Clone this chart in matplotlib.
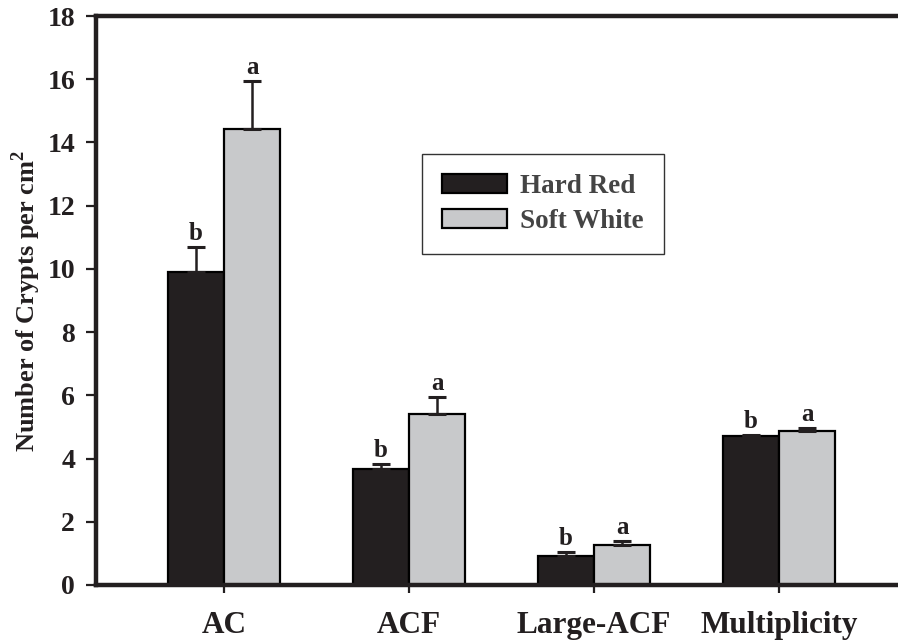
import matplotlib
matplotlib.use("Agg")
import matplotlib.pyplot as plt
import numpy as np

categories = ["AC", "ACF", "Large-ACF", "Multiplicity"]
series_names = ["Hard Red", "Soft White"]
hard_red = [9.9, 3.66, 0.92, 4.70]
hard_red_err = [0.78, 0.17, 0.13, 0.04]
soft_white = [14.44, 5.42, 1.28, 4.88]
soft_white_err = [1.5, 0.53, 0.12, 0.10]
hard_red_letters = ["b", "b", "b", "b"]
soft_white_letters = ["a", "a", "a", "a"]
yticks = [0, 2, 4, 6, 8, 10, 12, 14, 16, 18]

plt.rcParams['font.family'] = ['Liberation Serif', 'DejaVu Serif']
plt.rcParams['font.weight'] = 'bold'
plt.rcParams['mathtext.fontset'] = 'custom'
plt.rcParams['mathtext.rm'] = 'Liberation Serif:bold'
plt.rcParams['mathtext.bf'] = 'Liberation Serif:bold'

fig = plt.figure(figsize=(8.98, 6.41), dpi=100)
ax = fig.add_axes([96/898, 1-585/641, 1 - 96/898, (585-16)/641])

x = np.arange(len(categories))
w = 0.303
c_hr = "#231f20"
c_sw = "#c8c9cb"

b1 = ax.bar(x - w/2, hard_red, w, color=c_hr, edgecolor="black", linewidth=1.6,
            label=series_names[0], zorder=2)
b2 = ax.bar(x + w/2, soft_white, w, color=c_sw, edgecolor="black", linewidth=1.6,
            label=series_names[1], zorder=2)

ax.errorbar(x - w/2, hard_red, yerr=[np.zeros(4), hard_red_err], fmt='none',
            ecolor="#231f20", elinewidth=1.8, capsize=6.5, capthick=2.2, zorder=3)
ax.errorbar(x + w/2, soft_white, yerr=[np.zeros(4), soft_white_err], fmt='none',
            ecolor="#231f20", elinewidth=1.8, capsize=6.5, capthick=2.2, zorder=3)

for i in range(len(categories)):
    ax.annotate(hard_red_letters[i], (x[i] - w/2, hard_red[i] + hard_red_err[i]),
                xytext=(0, 5), textcoords='offset points', ha='center', va='baseline',
                fontsize=18, fontweight='bold', color="#231f20")
    ax.annotate(soft_white_letters[i], (x[i] + w/2, soft_white[i] + soft_white_err[i]),
                xytext=(0, 5), textcoords='offset points', ha='center', va='baseline',
                fontsize=18, fontweight='bold', color="#231f20")

ax.set_xlim(-0.692, 3.643)
ax.set_ylim(0, 18)
ax.set_yticks(yticks)
ax.set_yticklabels([str(t) for t in yticks])
ax.set_xticks(x)
ax.set_xticklabels(categories)

for s in ['left', 'bottom', 'top']:
    ax.spines[s].set_linewidth(3.2)
    ax.spines[s].set_color("#231f20")
ax.spines['right'].set_visible(False)

ax.tick_params(axis='y', direction='out', length=7, width=1.6, pad=8,
               labelsize=20, colors="#231f20")
ax.tick_params(axis='x', direction='out', length=6, width=1.6, pad=13,
               labelsize=22.5, colors="#231f20")
for lab in ax.get_xticklabels() + ax.get_yticklabels():
    lab.set_fontweight('bold')

ax.set_ylabel(r"Number of Crypts per cm$^{2}$", fontsize=19, fontweight='bold',
              labelpad=3, color="#231f20")

leg = fig.legend(handles=[b1, b2], loc='upper left',
                 bbox_to_anchor=(422/898, 1-154/641), borderaxespad=0,
                 fontsize=19.5, handlelength=2.37, handleheight=0.7,
                 fancybox=False, frameon=True, borderpad=0.75, labelspacing=0.35,
                 handletextpad=0.5)
leg.get_frame().set_edgecolor("black")
leg.get_frame().set_linewidth(1.0)
for t in leg.get_texts():
    t.set_color("#444444")
    t.set_fontweight('bold')

fig.savefig("out.png", dpi=100)
